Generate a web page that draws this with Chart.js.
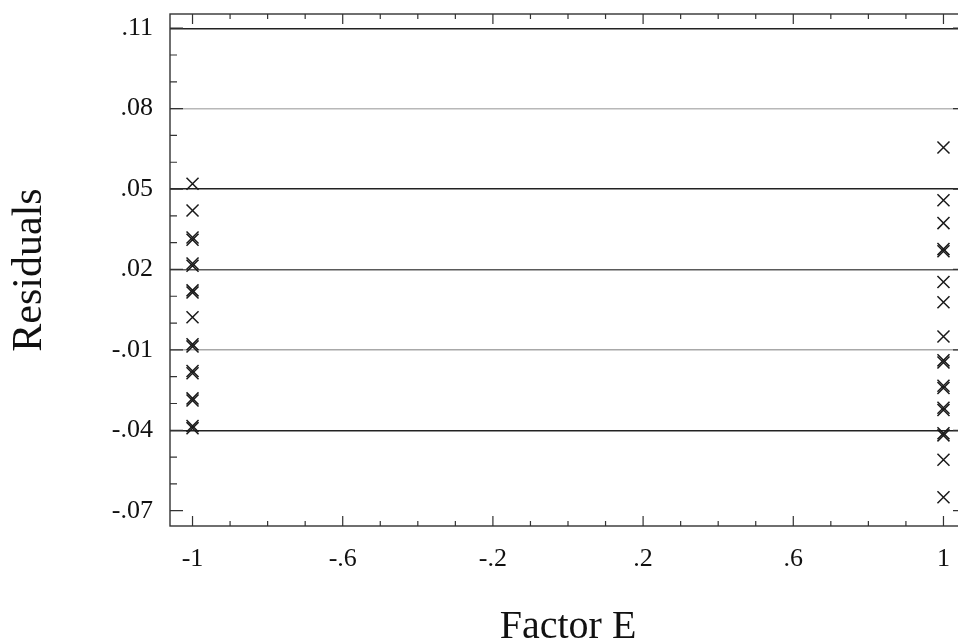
<!DOCTYPE html>
<html>
<head>
<meta charset="utf-8">
<script src="https://cdn.jsdelivr.net/npm/chart.js@4.4.1/dist/chart.umd.min.js"></script>
<style>
  html, body { margin: 0; padding: 0; background: #fff; overflow: hidden; }
  #wrap { width: 1000px; height: 644px; }
</style>
</head>
<body>
<div id="wrap"><canvas id="resChart" width="1000" height="644"></canvas></div>
<script>
// factor levels and residuals
const factorLevels = [-1, 1];
const residualsLow = [0.052, 0.042, 0.0319, 0.0311, 0.0222, 0.0214, 0.0122, 0.0114, 0.0022,
  -0.0079, -0.0087, -0.0179, -0.0187, -0.0281, -0.0289, -0.0384, -0.0392];
const residualsHigh = [0.0655, 0.0458, 0.0373, 0.0276, 0.0268, 0.0153, 0.0078, -0.0050,
  -0.0139, -0.0147, -0.0234, -0.0242, -0.0316, -0.0324, -0.0411, -0.0419, -0.0510, -0.0650];

const xMajorTicks = [-1, -0.6, -0.2, 0.2, 0.6, 1];
const yMajorTicks = [-0.07, -0.04, -0.01, 0.02, 0.05, 0.08, 0.11];

const gridColors = { '0.11': '#222', '0.08': '#b8b8b8', '0.05': '#222', '0.02': '#5a5a5a', '-0.01': '#a8a8a8', '-0.04': '#222' };

const fmt = v => {
    let s = String(Math.round(v * 100) / 100);
    return s.replace('0.', '.');
};
const isMajorX = v => xMajorTicks.some(t => Math.abs(t - v) < 1e-6);
const isMajorY = v => yMajorTicks.some(t => Math.abs(t - v) < 1e-6);

const points = [];
residualsLow.forEach(r => points.push({ x: factorLevels[0], y: r }));
residualsHigh.forEach(r => points.push({ x: factorLevels[1], y: r }));

const serif = "'Liberation Serif', 'DejaVu Serif', serif";

// frame plus inward tick marks like the original plot
const frameTicks = {
    id: 'frameTicks',
    afterDatasetsDraw(chart) {
        const { ctx, chartArea: a, scales: { x, y } } = chart;
        ctx.save();
        ctx.strokeStyle = '#333';
        ctx.lineWidth = 1.4;
        ctx.strokeRect(a.left, a.top, a.right - a.left, a.bottom - a.top);
        ctx.lineWidth = 1.2;
        ctx.beginPath();
        x.ticks.forEach(t => {
            const px = x.getPixelForValue(t.value);
            const len = isMajorX(t.value) ? 10 : 5;
            ctx.moveTo(px, a.bottom); ctx.lineTo(px, a.bottom - len);
            ctx.moveTo(px, a.top); ctx.lineTo(px, a.top + len);
        });
        y.ticks.forEach(t => {
            const py = y.getPixelForValue(t.value);
            const len = isMajorY(t.value) ? 13 : 7;
            ctx.moveTo(a.left, py); ctx.lineTo(a.left + len, py);
            ctx.moveTo(a.right, py); ctx.lineTo(a.right - len, py);
        });
        ctx.stroke();
        ctx.restore();
    }
};

new Chart(document.getElementById('resChart'), {
    type: 'scatter',
    data: {
        datasets: [{
            label: 'Residuals',
            data: points,
            pointStyle: 'crossRot',
            pointRadius: 8.5,
            pointBorderWidth: 1.5,
            borderColor: '#1a1a1a',
            backgroundColor: '#1a1a1a'
        }]
    },
    options: {
        responsive: false,
        animation: false,
        layout: { padding: { top: 14, right: 34, left: 0, bottom: 0 } },
        plugins: { legend: { display: false }, tooltip: { enabled: false } },
        scales: {
            x: {
                type: 'linear',
                min: -1.06,
                max: 1.06,
                afterBuildTicks: s => {
                    const t = [];
                    for (let i = -10; i <= 10; i++) t.push({ value: i / 10 });
                    s.ticks = t;
                },
                afterFit: s => { s.height = 118; },
                grid: { display: true, drawOnChartArea: false, drawTicks: true, tickLength: 20, tickColor: 'rgba(0,0,0,0)' },
                border: { display: false },
                ticks: {
                    autoSkip: false, maxRotation: 0, padding: 0,
                    color: '#111',
                    font: { family: serif, size: 26, lineHeight: 1 },
                    callback: v => isMajorX(v) ? fmt(v) : ''
                },
                title: {
                    display: true, text: 'Factor E', color: '#111',
                    font: { family: serif, size: 40, lineHeight: 0.9 },
                    padding: { top: 0, bottom: -1 }
                }
            },
            y: {
                min: -0.0757,
                max: 0.1153,
                afterBuildTicks: s => {
                    const t = [];
                    for (let i = -7; i <= 11; i++) t.push({ value: i / 100 });
                    s.ticks = t;
                },
                afterFit: s => { s.width = 170; },
                grid: {
                    drawTicks: true, tickLength: 17, tickColor: 'rgba(0,0,0,0)',
                    lineWidth: 1.4,
                    color: c => {
                        const k = String(Math.round(c.tick.value * 100) / 100);
                        return gridColors[k] || 'rgba(0,0,0,0)';
                    }
                },
                border: { display: false },
                ticks: {
                    autoSkip: false, padding: 0,
                    color: '#111',
                    font: { family: serif, size: 26, lineHeight: 1 },
                    callback: v => isMajorY(v) ? fmt(v) : ''
                },
                title: {
                    display: true, text: 'Residuals', color: '#111',
                    font: { family: serif, size: 42, lineHeight: 1 },
                    padding: { top: 9, bottom: 0 }
                }
            }
        }
    },
    plugins: [frameTicks]
});
</script>
</body>
</html>
